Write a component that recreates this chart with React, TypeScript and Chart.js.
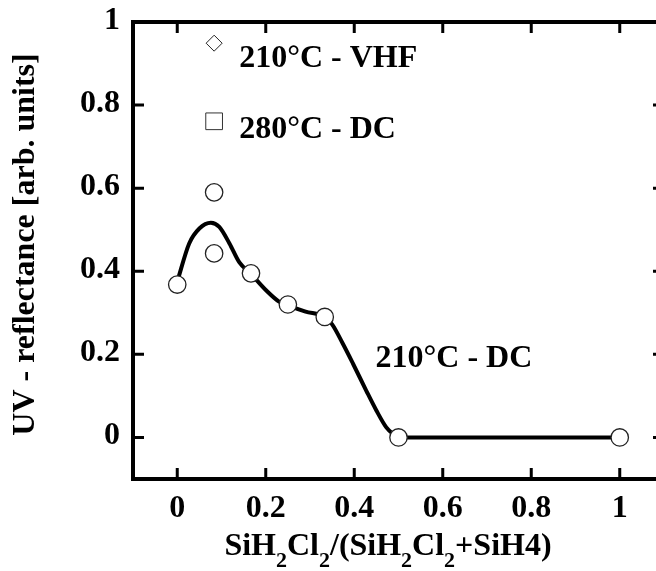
import { useEffect, useRef } from "react";
import { Chart, registerables } from "chart.js";

Chart.register(...registerables);

// 210°C - DC measured points
const dcX = [0, 1 / 12, 1 / 12, 1 / 6, 0.25, 1 / 3, 0.5, 1];
const dcY = [0.368, 0.59, 0.443, 0.395, 0.32, 0.29, 0, 0];

// 210°C - VHF point
const vhfX = [1 / 12];
const vhfY = [0.949];

// 280°C - DC point
const hotX = [1 / 12];
const hotY = [0.761];

// Guide-to-the-eye curve
const fitX = [0, 0.027, 0.05, 0.076, 0.095, 0.118, 0.14, 0.167, 0.2, 0.23, 0.25, 0.29, 0.333, 0.35, 0.374, 0.397, 0.427, 0.45, 0.472, 0.487, 0.5, 1];
const fitY = [0.375, 0.467, 0.503, 0.517, 0.507, 0.467, 0.422, 0.393, 0.355, 0.327, 0.318, 0.303, 0.29, 0.272, 0.226, 0.178, 0.113, 0.065, 0.025, 0.009, 0, 0];

const xTicks = [0, 0.2, 0.4, 0.6, 0.8, 1];
const yTicks = [0, 0.2, 0.4, 0.6, 0.8, 1];
const xTickLabels = ["0", "0.2", "0.4", "0.6", "0.8", "1"];
const yTickLabels = ["0", "0.2", "0.4", "0.6", "0.8", "1"];

const noteTexts = ["210°C - VHF", "280°C - DC", "210°C - DC"];
const noteX = [0.14, 0.14, 0.448];
const noteY = [0.892, 0.72, 0.169];

const yTitle = "UV - reflectance [arb. units]";
// x title pieces: [text, isSubscript]
const xTitleParts: [string, boolean][] = [
  ["SiH", false], ["2", true], ["Cl", false], ["2", true],
  ["/(SiH", false], ["2", true], ["Cl", false], ["2", true], ["+SiH4)", false],
];

const FONT = "'Liberation Serif', 'Times New Roman', serif";

const framePlugin = {
  id: "framePlugin",
  afterDraw(chart: any) {
    const { ctx, chartArea } = chart;
    const xs = chart.scales.x;
    const ys = chart.scales.y;
    const { left, right, top, bottom } = chartArea;
    ctx.save();
    ctx.strokeStyle = "#000";
    ctx.lineWidth = 4;
    ctx.strokeRect(left, top, right - left, bottom - top);
    ctx.lineWidth = 3;
    const tl = 11;
    ctx.beginPath();
    xTicks.forEach((v) => {
      const px = xs.getPixelForValue(v);
      ctx.moveTo(px, bottom);
      ctx.lineTo(px, bottom - tl);
      ctx.moveTo(px, top);
      ctx.lineTo(px, top + tl);
    });
    yTicks.forEach((v) => {
      const py = ys.getPixelForValue(v);
      ctx.moveTo(left, py);
      ctx.lineTo(left + tl, py);
      ctx.moveTo(right, py);
      ctx.lineTo(right - tl, py);
    });
    ctx.stroke();

    ctx.fillStyle = "#000";
    ctx.font = `bold 32px ${FONT}`;
    // x tick labels
    ctx.textAlign = "center";
    ctx.textBaseline = "alphabetic";
    xTicks.forEach((v, i) => {
      ctx.fillText(xTickLabels[i], xs.getPixelForValue(v), bottom + 38);
    });
    // y tick labels
    ctx.textAlign = "right";
    yTicks.forEach((v, i) => {
      ctx.fillText(yTickLabels[i], left - 13, ys.getPixelForValue(v) + 7);
    });

    // annotations
    ctx.textAlign = "left";
    noteTexts.forEach((t, i) => {
      ctx.fillText(t, xs.getPixelForValue(noteX[i]), ys.getPixelForValue(noteY[i]));
    });

    // y title
    ctx.save();
    ctx.translate(26, (top + bottom) / 2 - 6);
    ctx.rotate(-Math.PI / 2);
    ctx.textAlign = "center";
    ctx.textBaseline = "middle";
    ctx.fillText(yTitle, 0, 0);
    ctx.restore();

    // x title with subscripts
    const mainFont = `bold 32px ${FONT}`;
    const subFont = `bold 22px ${FONT}`;
    let total = 0;
    xTitleParts.forEach(([t, sub]) => {
      ctx.font = sub ? subFont : mainFont;
      total += ctx.measureText(t).width;
    });
    let cx = 388 - total / 2;
    const base = 555;
    ctx.textAlign = "left";
    xTitleParts.forEach(([t, sub]) => {
      ctx.font = sub ? subFont : mainFont;
      ctx.fillText(t, cx, sub ? base + 12 : base);
      cx += ctx.measureText(t).width;
    });
    ctx.restore();
  },
};

export default function App() {
  const ref = useRef<HTMLCanvasElement | null>(null);
  useEffect(() => {
    if (!ref.current) return;
    const W = 680;
    const chart = new Chart(ref.current, {
      type: "scatter",
      data: {
        datasets: [
          {
            label: "210°C - DC",
            data: dcX.map((x, i) => ({ x, y: dcY[i] })),
            pointStyle: "circle",
            pointRadius: 8.7,
            pointBackgroundColor: "#fff",
            pointBorderColor: "#222",
            pointBorderWidth: 1.3,
            showLine: false,
          },
          {
            label: "210°C - VHF",
            data: vhfX.map((x, i) => ({ x, y: vhfY[i] })),
            pointStyle: "rectRot",
            pointRadius: 8,
            pointBackgroundColor: "#fff",
            pointBorderColor: "#222",
            pointBorderWidth: 1,
            showLine: false,
          },
          {
            label: "280°C - DC",
            data: hotX.map((x, i) => ({ x, y: hotY[i] })),
            pointStyle: "rect",
            pointRadius: 11.8,
            pointBackgroundColor: "#fff",
            pointBorderColor: "#333",
            pointBorderWidth: 1,
            showLine: false,
          },
          {
            label: "fit",
            data: fitX.map((x, i) => ({ x, y: fitY[i] })),
            showLine: true,
            pointRadius: 0,
            borderColor: "#000",
            borderWidth: 4,
            cubicInterpolationMode: "monotone",
            fill: false,
          } as any,
        ],
      },
      options: {
        animation: false,
        responsive: false,
        events: [],
        layout: { autoPadding: false, padding: { left: 133, top: 22, right: W - 664, bottom: 571 - 479 } },
        plugins: { legend: { display: false }, tooltip: { enabled: false } },
        scales: {
          x: { type: "linear", min: -0.1, max: 1.1, display: false },
          y: { type: "linear", min: -0.1, max: 1, display: false },
        },
      },
      plugins: [framePlugin],
    });
    return () => chart.destroy();
  }, []);
  return (
    <div style={{ position: "fixed", left: 0, top: 0, width: 656, height: 571, overflow: "hidden", background: "#fff" }}>
      <canvas ref={ref} width={680} height={571} style={{ display: "block", width: 680, height: 571 }} />
    </div>
  );
}
